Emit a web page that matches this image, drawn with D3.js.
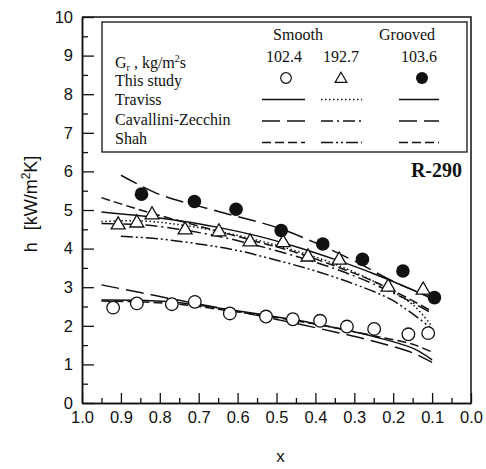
<!DOCTYPE html>
<html>
<head>
<meta charset="utf-8">
<script src="https://cdn.jsdelivr.net/npm/d3@7/dist/d3.min.js"></script>
<style>
  body { margin: 0; background: #fff; }
  svg text { fill: #111; }
</style>
</head>
<body>
<div id="chart"></div>
<script>
// measured heat transfer coefficients, h [kW/m2K] vs quality x
var qualSmoothLow = [0.92, 0.859, 0.769, 0.71, 0.62, 0.527, 0.458, 0.388, 0.319, 0.249, 0.161, 0.11];
var hSmoothLow    = [2.47, 2.58, 2.56, 2.62, 2.32, 2.24, 2.17, 2.13, 1.98, 1.92, 1.78, 1.81];
var qualSmoothHigh = [0.907, 0.859, 0.82, 0.735, 0.648, 0.568, 0.483, 0.419, 0.339, 0.213, 0.123];
var hSmoothHigh    = [4.64, 4.69, 4.90, 4.51, 4.46, 4.20, 4.18, 3.81, 3.73, 3.03, 2.95];
var qualGrooved = [0.847, 0.711, 0.604, 0.488, 0.381, 0.279, 0.175, 0.094];
var hGrooved    = [5.41, 5.22, 5.02, 4.47, 4.12, 3.72, 3.42, 2.73];

// correlation curves
var corrX  = [0.95, 0.85, 0.75, 0.65, 0.55, 0.45, 0.35, 0.25, 0.15, 0.1];
var corrX2 = [0.9, 0.8, 0.7, 0.6, 0.5, 0.4, 0.3, 0.2, 0.1];
var travissSmoothLow  = [2.67, 2.66, 2.60, 2.46, 2.31, 2.15, 1.95, 1.72, 1.42, 1.12];
var cavSmoothLow      = [3.06, 2.86, 2.66, 2.47, 2.27, 2.06, 1.84, 1.60, 1.30, 1.05];
var shahSmoothLow     = [2.64, 2.62, 2.56, 2.43, 2.29, 2.13, 1.95, 1.74, 1.52, 1.32];
var travissSmoothHigh = [4.70, 4.72, 4.62, 4.45, 4.22, 3.94, 3.60, 3.15, 2.55, 1.98];
var cavSmoothHigh     = [4.65, 4.62, 4.50, 4.32, 4.08, 3.80, 3.48, 3.08, 2.60, 2.32];
var shahSmoothHigh    = [4.32, 4.25, 4.12, 3.95, 3.70, 3.42, 3.08, 2.65, 1.92]; // on corrX2
var travissGrooved    = [4.95, 4.85, 4.72, 4.55, 4.33, 4.05, 3.72, 3.35, 2.93, 2.70];
var cavGrooved        = [5.90, 5.40, 5.10, 4.83, 4.55, 4.15, 3.68, 3.15, 2.72]; // on corrX2
var shahGrooved       = [5.32, 5.00, 4.72, 4.45, 4.18, 3.90, 3.55, 3.15, 2.65, 2.37];

var xTicks = [1.0, 0.9, 0.8, 0.7, 0.6, 0.5, 0.4, 0.3, 0.2, 0.1, 0.0];
var yTicks = [0, 1, 2, 3, 4, 5, 6, 7, 8, 9, 10];
var fluxLabels = ['102.4', '192.7', '103.6'];
var legendRows = ['This study', 'Traviss', 'Cavallini-Zecchin', 'Shah'];

var W = 486, H = 469;
var margin = {top: 17, right: 15, bottom: 66, left: 82};
var width = W - margin.left - margin.right,
    height = H - margin.top - margin.bottom;

var svg = d3.select('#chart').append('svg')
  .attr('width', W).attr('height', H);
var g = svg.append('g').attr('transform', 'translate(' + margin.left + ',' + margin.top + ')');

var x = d3.scaleLinear().domain([1, 0]).range([0, width]);
var y = d3.scaleLinear().domain([0, 10]).range([height, 0]);

var sans = 'Liberation Sans, Arial, sans-serif',
    serif = 'Liberation Serif, Times New Roman, serif';

// frame (top and right)
g.append('path')
  .attr('d', 'M0,0H' + width + 'V' + height)
  .attr('fill', 'none').attr('stroke', '#111').attr('stroke-width', 1.5);

// axes: major ticks with labels, minor ticks without
var xAxis = d3.axisBottom(x).tickValues(xTicks).tickFormat(d3.format('.1f'))
  .tickSizeInner(-10).tickSizeOuter(0).tickPadding(8);
var xMinor = d3.axisBottom(x).tickValues(d3.range(0.95, 0, -0.1))
  .tickSizeInner(-5).tickSizeOuter(0).tickFormat('');
var yAxis = d3.axisLeft(y).tickValues(yTicks).tickFormat(d3.format('d'))
  .tickSizeInner(-12).tickSizeOuter(0).tickPadding(9);
var yMinor = d3.axisLeft(y).tickValues(d3.range(0.5, 10, 1))
  .tickSizeInner(-6).tickSizeOuter(0).tickFormat('');

g.append('g').attr('transform', 'translate(0,' + height + ')').call(xMinor);
g.append('g').attr('transform', 'translate(0,' + height + ')').call(xAxis);
g.append('g').call(yMinor);
g.append('g').call(yAxis);

g.selectAll('.domain').attr('stroke', '#111').attr('stroke-width', 1.5);
g.selectAll('.tick line').attr('stroke', '#111').attr('stroke-width', 1.3);
g.selectAll('.tick text').attr('font-family', sans).attr('font-size', 16.5).attr('fill', '#111');

// axis titles
svg.append('text')
  .attr('transform', 'translate(37,' + (margin.top + height / 2 - 6) + ') rotate(-90)')
  .attr('text-anchor', 'middle')
  .attr('font-family', sans).attr('font-size', 18)
  .call(function(t) {
    t.append('tspan').text('h');
    t.append('tspan').attr('dx', 12).text('[kW/m');
    t.append('tspan').attr('font-size', 12).attr('dy', -7).text('2');
    t.append('tspan').attr('dy', 7).text('K]');
  });
svg.append('text')
  .attr('x', margin.left + x(0.49)).attr('y', 462)
  .attr('text-anchor', 'middle')
  .attr('font-family', sans).attr('font-size', 17)
  .text('x');

// styles per series: dashes
var styles = {
  travissLow: null, cavLow: '18,7', shahLow: '9,4',
  travissHigh: '1.5,2.5', cavHigh: '12,4,2,4', shahHigh: '12,3,2,3,2,3',
  travissGr: null, cavGr: '18,7', shahGr: '9,4'
};

var line = d3.line()
  .x(function(d) { return x(d[0]); })
  .y(function(d) { return y(d[1]); })
  .curve(d3.curveCatmullRom);

var curves = [
  [corrX, travissSmoothLow, styles.travissLow],
  [corrX, cavSmoothLow, styles.cavLow],
  [corrX, shahSmoothLow, styles.shahLow],
  [corrX, travissSmoothHigh, styles.travissHigh],
  [corrX, cavSmoothHigh, styles.cavHigh],
  [corrX2, shahSmoothHigh, styles.shahHigh],
  [corrX, travissGrooved, styles.travissGr],
  [corrX2, cavGrooved, styles.cavGr],
  [corrX, shahGrooved, styles.shahGr]
];

g.selectAll('path.corr')
  .data(curves)
  .enter().append('path')
  .attr('class', 'corr')
  .attr('d', function(c) { return line(d3.zip(c[0], c[1])); })
  .attr('fill', 'none')
  .attr('stroke', '#111')
  .attr('stroke-width', 1.5)
  .attr('stroke-dasharray', function(c) { return c[2]; });

// markers
var tri = d3.symbol().type(d3.symbolTriangle).size(85);

g.selectAll('circle.low')
  .data(d3.zip(qualSmoothLow, hSmoothLow))
  .enter().append('circle')
  .attr('cx', function(d) { return x(d[0]); })
  .attr('cy', function(d) { return y(d[1]); })
  .attr('r', 6.3)
  .attr('fill', '#fff').attr('stroke', '#111').attr('stroke-width', 1.3);

g.selectAll('path.high')
  .data(d3.zip(qualSmoothHigh, hSmoothHigh))
  .enter().append('path')
  .attr('d', tri)
  .attr('transform', function(d) { return 'translate(' + x(d[0]) + ',' + (y(d[1]) + 1) + ')'; })
  .attr('fill', '#fff').attr('stroke', '#111').attr('stroke-width', 1.3);

g.selectAll('circle.gr')
  .data(d3.zip(qualGrooved, hGrooved))
  .enter().append('circle')
  .attr('cx', function(d) { return x(d[0]); })
  .attr('cy', function(d) { return y(d[1]); })
  .attr('r', 6.8)
  .attr('fill', '#111');

// legend box
var lg = svg.append('g');
lg.append('rect')
  .attr('x', 102).attr('y', 22).attr('width', 365).attr('height', 130)
  .attr('fill', '#fff').attr('stroke', '#111').attr('stroke-width', 1.3);

var gr = lg.append('text').attr('x', 115).attr('y', 68)
  .attr('font-family', serif).attr('font-size', 16);
gr.append('tspan').text('G');
gr.append('tspan').attr('font-size', 10).attr('dy', 3).text('r');
gr.append('tspan').attr('dy', -3).text(' , kg/m');
gr.append('tspan').attr('font-size', 10).attr('dy', -6).text('2');
gr.append('tspan').attr('dy', 6).text('s');

lg.selectAll('text.row')
  .data(legendRows)
  .enter().append('text')
  .attr('x', 115)
  .attr('y', function(d, i) { return 86 + i * 19.3; })
  .attr('font-family', serif).attr('font-size', 16)
  .text(function(d) { return d; });

lg.append('text').attr('x', 298).attr('y', 40).attr('text-anchor', 'middle')
  .attr('font-family', serif).attr('font-size', 16).text('Smooth');
lg.append('text').attr('x', 407).attr('y', 40).attr('text-anchor', 'middle')
  .attr('font-family', serif).attr('font-size', 16).text('Grooved');

var colX = [284, 341, 419];
lg.selectAll('text.flux')
  .data(fluxLabels)
  .enter().append('text')
  .attr('x', function(d, i) { return colX[i]; })
  .attr('y', 62)
  .attr('text-anchor', 'middle')
  .attr('font-family', serif).attr('font-size', 16)
  .text(function(d) { return d; });

lg.append('circle').attr('cx', 286).attr('cy', 78).attr('r', 5.3)
  .attr('fill', '#fff').attr('stroke', '#111').attr('stroke-width', 1.2);
lg.append('path').attr('d', d3.symbol().type(d3.symbolTriangle).size(60))
  .attr('transform', 'translate(341,79)')
  .attr('fill', '#fff').attr('stroke', '#111').attr('stroke-width', 1.2);
lg.append('circle').attr('cx', 422).attr('cy', 78).attr('r', 6)
  .attr('fill', '#111');

var sampleX = [[262, 305], [321, 362], [399, 439]];
var sampleY = [99.5, 121, 142.5];
var sampleStyles = [
  [styles.travissLow, styles.travissHigh, styles.travissGr],
  [styles.cavLow, styles.cavHigh, styles.cavGr],
  [styles.shahLow, styles.shahHigh, styles.shahGr]
];
sampleStyles.forEach(function(row, r) {
  row.forEach(function(st, c) {
    lg.append('line')
      .attr('x1', sampleX[c][0]).attr('x2', sampleX[c][1])
      .attr('y1', sampleY[r]).attr('y2', sampleY[r])
      .attr('stroke', '#111').attr('stroke-width', 1.4)
      .attr('stroke-dasharray', st);
  });
});

// refrigerant label
svg.append('text')
  .attr('x', 462).attr('y', 177)
  .attr('text-anchor', 'end')
  .attr('font-family', serif).attr('font-size', 20).attr('font-weight', 'bold')
  .text('R-290');
</script>
</body>
</html>
